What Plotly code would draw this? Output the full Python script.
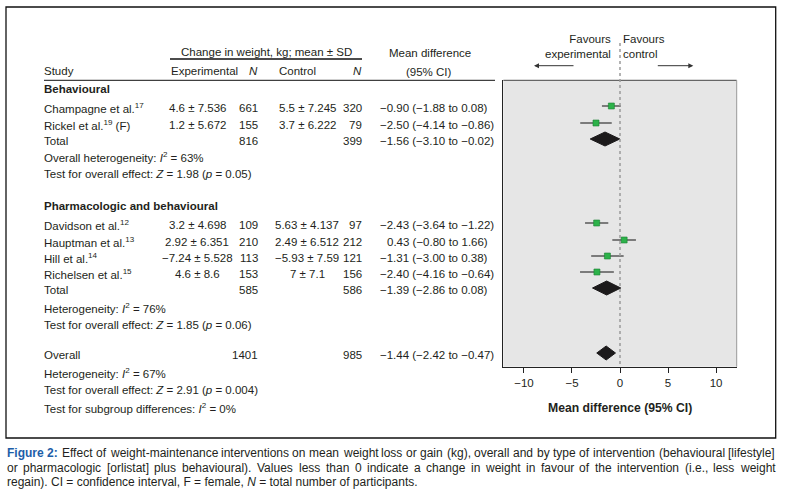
import plotly.graph_objects as go

# ---------------- data ----------------
studies = ["Champagne et al.<sup>17</sup>", "Rickel et al.<sup>19</sup> (F)",
           "Davidson et al.<sup>12</sup>", "Hauptman et al.<sup>13</sup>",
           "Hill et al.<sup>14</sup>", "Richelsen et al.<sup>15</sup>"]
exp_labels = ["4.6 ± 7.536", "1.2 ± 5.672", "3.2 ± 4.698", "2.92 ± 6.351", "−7.24 ± 5.528", "4.6 ± 8.6"]
exp_n = [661, 155, 109, 210, 113, 153]
ctl_labels = ["5.5 ± 7.245", "3.7 ± 6.222", "5.63 ± 4.137", "2.49 ± 6.512", "−5.93 ± 7.59", "7 ± 7.1"]
ctl_n = [320, 79, 97, 212, 121, 156]
md = [-0.90, -2.50, -2.43, 0.43, -1.31, -2.40]
md_lo = [-1.88, -4.14, -3.64, -0.80, -3.00, -4.16]
md_hi = [0.08, -0.86, -1.22, 1.66, 0.38, -0.64]

pooled_names = ["Total", "Total", "Overall"]
pooled_exp_n = [816, 585, 1401]
pooled_ctl_n = [399, 586, 985]
pooled_md = [-1.56, -1.39, -1.44]
pooled_lo = [-3.10, -2.86, -2.42]
pooled_hi = [-0.02, 0.08, -0.47]

stats_lines = [
    "Overall heterogeneity: <i>I</i><sup>2</sup> = 63%",
    "Test for overall effect: <i>Z</i> = 1.98 (<i>p</i> = 0.05)",
    "Heterogeneity: <i>I</i><sup>2</sup> = 76%",
    "Test for overall effect: <i>Z</i> = 1.85 (<i>p</i> = 0.06)",
    "Heterogeneity: <i>I</i><sup>2</sup> = 67%",
    "Test for overall effect: <i>Z</i> = 2.91 (<i>p</i> = 0.004)",
    "Test for subgroup differences: <i>I</i><sup>2</sup> = 0%",
]
group_names = ["Behavioural", "Pharmacologic and behavioural"]
x_ticks = [-10, -5, 0, 5, 10]

caption_lines = [
    "Figure 2: Effect of weight-maintenance interventions on mean weight loss or gain (kg), overall and by type of intervention (behavioural [lifestyle]",
    "or pharmacologic [orlistat] plus behavioural). Values less than 0 indicate a change in weight in favour of the intervention (i.e., less weight",
    "regain). CI = confidence interval, F = female, <i>N</i> = total number of participants.",
]

# ---------------- layout helpers ----------------
W, H = 785, 499
FONT = "Liberation Sans, Arial, Helvetica, sans-serif"
TXT = "#231f20"
TS = 11.5  # table font size


def px(x):
    return x / W


def py(y):
    return 1 - y / H


# row positions (pixel rows of text centres)
study_rows = [108, 125, 225, 242, 258, 274]
group_rows = [89, 205.7]
pooled_rows = [141, 290, 355]
stats_rows = [157, 174, 308, 325, 373, 390, 408]
MARK_SHIFT = -2

BOX_L, BOX_R, BOX_T, BOX_B = 503.3, 736.7, 80.3, 366.7

annotations = []


def add_text(x, y, text, anchor="left", size=TS, color=TXT, **kw):
    annotations.append(dict(x=px(x), y=py(y), xref="paper", yref="paper", text=text,
                            showarrow=False, xanchor=anchor, yanchor="middle",
                            font=dict(family=FONT, size=size, color=color), **kw))


def fmt(v):
    return f"{v:.2f}".replace("-", "−")


def md_text(m, lo, hi):
    return f"{fmt(m)} ({fmt(lo)} to {fmt(hi)})"


# headers
add_text(266, 52, "Change in weight, kg; mean ± SD", anchor="center")
add_text(430, 53, "Mean difference", anchor="center")
add_text(429, 72, "(95% CI)", anchor="center")
add_text(42, 71, "Study")
add_text(169, 71, "Experimental")
add_text(260, 71, "<i>N</i>", anchor="right")
add_text(277, 71, "Control")
add_text(364, 71, "<i>N</i>", anchor="right")

for gname, gy in zip(group_names, group_rows):
    add_text(42, gy, f"<b>{gname}</b>")

for i, s in enumerate(studies):
    y = study_rows[i]
    add_text(42, y, s)
    add_text(197, y, exp_labels[i], anchor="center")
    add_text(260, y, str(exp_n[i]), anchor="right")
    add_text(307, y, ctl_labels[i], anchor="center")
    add_text(364, y, str(ctl_n[i]), anchor="right")
    xoff = 0 if md[i] < 0 else 7
    add_text(378 + xoff, y, md_text(md[i], md_lo[i], md_hi[i]))

for i, nm in enumerate(pooled_names):
    y = pooled_rows[i]
    add_text(42, y, nm)
    add_text(260, y, str(pooled_exp_n[i]), anchor="right")
    add_text(364, y, str(pooled_ctl_n[i]), anchor="right")
    add_text(378, y, md_text(pooled_md[i], pooled_lo[i], pooled_hi[i]))

for s, y in zip(stats_lines, stats_rows):
    add_text(42, y, s)

# favours labels
add_text(613, 46.5, "Favours<br>experimental", anchor="right", align="right")
add_text(621, 46.5, "Favours<br>control", anchor="left", align="left")

# arrows
annotations.append(dict(x=px(534), y=py(65.7), xref="paper", yref="paper", ax=41, ay=0,
                        text="", showarrow=True, arrowhead=2, arrowsize=1, arrowwidth=1,
                        arrowcolor="#333"))
annotations.append(dict(x=px(693.3), y=py(65.7), xref="paper", yref="paper", ax=-37, ay=0,
                        text="", showarrow=True, arrowhead=2, arrowsize=1, arrowwidth=1,
                        arrowcolor="#333"))

# x-axis title
add_text(620, 408, "<b>Mean difference (95% CI)</b>", anchor="center", size=12.2)

# ---------------- caption (justified) ----------------
AW = {' ': 278, 'a': 556, 'b': 556, 'c': 500, 'd': 556, 'e': 556, 'f': 278, 'g': 556, 'h': 556,
      'i': 222, 'j': 222, 'k': 500, 'l': 222, 'm': 833, 'n': 556, 'o': 556, 'p': 556, 'q': 556,
      'r': 333, 's': 500, 't': 278, 'u': 556, 'v': 500, 'w': 722, 'x': 500, 'y': 500, 'z': 500,
      'C': 722, 'E': 667, 'F': 611, 'I': 278, 'N': 722, 'V': 667, '(': 333, ')': 333, '[': 278,
      ']': 278, '.': 278, ',': 278, ':': 278, '-': 333, '=': 584}
BW = {'F': 611, 'i': 278, 'g': 611, 'u': 611, 'r': 389, 'e': 556, '2': 556, ':': 333, ' ': 278}


def tw(s, size, bold=False):
    tab = BW if bold else AW
    return sum(tab.get(c, 556) for c in s) * size / 1000.0


CAP_SIZE = 12
CAP_L, CAP_R = 6, 774
cap_rows = [453, 468, 482]


def add_cap(x, y, text, color=TXT):
    annotations.append(dict(x=px(x), y=py(y), xref="paper", yref="paper", text=text,
                            showarrow=False, xanchor="left", yanchor="middle", borderpad=0,
                            font=dict(family=FONT, size=CAP_SIZE, color=color)))


for li, line in enumerate(caption_lines):
    y = cap_rows[li]
    if li == 2:
        add_cap(CAP_L, y, line)
        continue
    words = line.split(" ")
    bold_flags = [li == 0 and k < 2 for k in range(len(words))]
    widths = [tw(w, CAP_SIZE, b) for w, b in zip(words, bold_flags)]
    gap = (CAP_R - CAP_L - sum(widths)) / (len(words) - 1)
    x = CAP_L
    for w, b, wd in zip(words, bold_flags, widths):
        if b:
            add_cap(x, y, f"<b>{w}</b>", color="#1d5ea8")
        else:
            add_cap(x, y, w)
        x += wd + gap

# ---------------- marks ----------------
fig = go.Figure()

mark_y = [r + MARK_SHIFT for r in study_rows]
fig.add_trace(go.Scatter(
    x=md, y=mark_y, mode="markers",
    marker=dict(symbol="square", size=6, color="#2db24a", line=dict(color="#1b7f33", width=0.6)),
    error_x=dict(type="data", symmetric=False,
                 array=[h - m for h, m in zip(md_hi, md)],
                 arrayminus=[m - l for m, l in zip(md, md_lo)],
                 width=0, thickness=1.1, color="#111"),
    showlegend=False, hoverinfo="skip", cliponaxis=False))

DH = 7
for m, lo, hi, r in zip(pooled_md, pooled_lo, pooled_hi, pooled_rows):
    yc = r + MARK_SHIFT
    fig.add_trace(go.Scatter(
        x=[lo, m, hi, m, lo], y=[yc, yc - DH, yc, yc + DH, yc], mode="lines",
        fill="toself", fillcolor="#1c1a1b", line=dict(color="#1c1a1b", width=1),
        showlegend=False, hoverinfo="skip"))

shapes = [
    # outer frame
    dict(type="rect", xref="paper", yref="paper", x0=px(6), x1=px(775.7), y0=py(7), y1=py(438),
         line=dict(color="#111", width=1.3)),
    # header underline & rule
    dict(type="line", xref="paper", yref="paper", x0=px(170), x1=px(362), y0=py(59), y1=py(59),
         line=dict(color="#111", width=1.6)),
    dict(type="line", xref="paper", yref="paper", x0=px(44), x1=px(495), y0=py(80.3), y1=py(80.3),
         line=dict(color="#111", width=1)),
    # box top & right
    dict(type="line", xref="paper", yref="paper", x0=px(BOX_L), x1=px(BOX_R), y0=py(BOX_T), y1=py(BOX_T),
         line=dict(color="#444", width=1)),
    dict(type="line", xref="paper", yref="paper", x0=px(BOX_R), x1=px(BOX_R), y0=py(BOX_T), y1=py(BOX_B),
         line=dict(color="#999", width=1)),
    # zero line
    dict(type="line", xref="x", yref="paper", x0=0, x1=0, y0=py(43), y1=py(BOX_B),
         line=dict(color="#9a9a9a", width=1.5, dash="dot")),
]

fig.update_layout(
    width=W, height=H, margin=dict(l=0, r=0, t=0, b=0),
    paper_bgcolor="white", plot_bgcolor="#e6e6e6",
    showlegend=False,
    font=dict(family=FONT, size=TS, color=TXT),
    xaxis=dict(domain=[px(BOX_L), px(BOX_R)], range=[-12.15, 12.15], tickvals=x_ticks,
               ticks="outside", ticklen=5, tickcolor="#222", tickwidth=1,
               showgrid=False, zeroline=False, showline=True, linecolor="#222", linewidth=1,
               tickfont=dict(size=11.5, color=TXT), fixedrange=True),
    yaxis=dict(domain=[py(BOX_B), py(BOX_T)], range=[BOX_B, BOX_T], visible=True,
               showticklabels=False, ticks="", showgrid=False, zeroline=False,
               showline=True, linecolor="#222", linewidth=1, fixedrange=True),
    annotations=annotations, shapes=shapes,
)

fig.write_html("out.html", config={"displayModeBar": False},
               post_script="document.body.style.margin='0';document.body.style.overflow='hidden';")
